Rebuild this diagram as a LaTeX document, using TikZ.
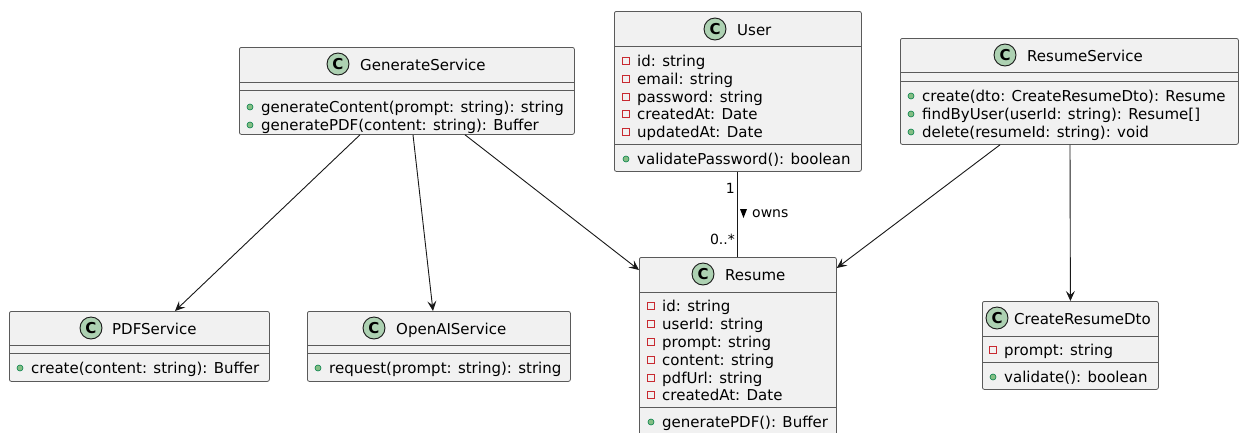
\documentclass[tikz,border=0pt]{standalone}
\usepackage{fontspec}
\setmainfont{DejaVu Sans}
\usetikzlibrary{arrows.meta}
\definecolor{boxfill}{HTML}{F1F1F1}
\definecolor{boxline}{HTML}{5A5A5A}
\definecolor{iconfill}{HTML}{ADD1B2}
\definecolor{iconline}{HTML}{181818}
\definecolor{privcol}{HTML}{C82930}
\definecolor{pubfill}{HTML}{84BE84}
\definecolor{publine}{HTML}{038048}
\definecolor{edgecol}{HTML}{181818}
\tikzset{
  cls/.style={draw=boxline, fill=boxfill, line width=0.8pt, rounded corners=2pt, inner sep=0pt, anchor=north west},
  sepline/.style={draw=boxline, line width=0.8pt},
  clsicon/.style={circle, draw=iconline, fill=iconfill, line width=0.9pt, minimum size=22pt, inner sep=0pt, font=\bfseries\fontsize{15}{15}\selectfont},
  clstitle/.style={anchor=base west, inner sep=0pt, font=\fontsize{15}{18}\selectfont},
  mem/.style={anchor=base west, inner sep=0pt, font=\fontsize{15}{18}\selectfont},
  pubdot/.style={fill=pubfill, draw=publine, line width=0.6pt},
  privsq/.style={draw=privcol, line width=0.8pt},
  assoc/.style={draw=edgecol, line width=0.9pt, -{Stealth[length=10pt,width=9pt,inset=4pt]}},
  plainedge/.style={draw=edgecol, line width=0.9pt},
  elabel/.style={inner sep=0pt, font=\fontsize{14}{16}\selectfont},
}
\newcommand\mpub[4]{%
  \draw[pubdot] (#2,{#3-5}) circle[radius=3pt];
  \node[mem] (#1) at ({#2+11},#3) {#4};}
\newcommand\mpriv[4]{%
  \draw[privsq] ({#2-3.5},{#3-8.5}) rectangle ++(7,7);
  \node[mem] (#1) at ({#2+11},#3) {#4};}
\begin{document}
\begin{tikzpicture}[x=1pt,y=-1pt]
\useasboundingbox (0,0) rectangle (1240,432);
\clip (0,0) rectangle (1240,432);
\fill[white] (0,0) rectangle (1240,432);

% GenerateService
\node[cls, minimum width=335pt, minimum height=87pt] (gen) at (239,47) {};
\draw[sepline] (gen.north west) ++(0,35) -- ++(335,0);
\draw[sepline] (gen.north west) ++(0,43) -- ++(335,0);
\node[clsicon] (genicon) at (338,64) {C};
\node[clstitle] (gentitle) at (360,70) {GenerateService};
\mpub{genm1}{250}{112}{generateContent(prompt: string): string}
\mpub{genm2}{250}{130}{generatePDF(content: string): Buffer}

% User
\node[cls, minimum width=247pt, minimum height=160pt] (user) at (614,11) {};
\draw[sepline] (user.north west) ++(0,35) -- ++(247,0);
\draw[sepline] (user.north west) ++(0,133) -- ++(247,0);
\node[clsicon] (usericon) at (715,29) {C};
\node[clstitle] (usertitle) at (737,35) {User};
\mpriv{userf1}{626}{66}{id: string}
\mpriv{userf2}{626}{84}{email: string}
\mpriv{userf3}{626}{102}{password: string}
\mpriv{userf4}{626}{119}{createdAt: Date}
\mpriv{userf5}{626}{137}{updatedAt: Date}
\mpub{userm1}{626}{164}{validatePassword(): boolean}

% ResumeService
\node[cls, minimum width=338pt, minimum height=106pt] (rsvc) at (900,38) {};
\draw[sepline] (rsvc.north west) ++(0,34) -- ++(338,0);
\draw[sepline] (rsvc.north west) ++(0,43) -- ++(338,0);
\node[clsicon] (rsvcicon) at (1005,55) {C};
\node[clstitle] (rsvctitle) at (1027,61) {ResumeService};
\mpub{rsvcm1}{911}{101}{create(dto: CreateResumeDto): Resume}
\mpub{rsvcm2}{911}{119}{findByUser(userId: string): Resume[]}
\mpub{rsvcm3}{911}{137}{delete(resumeId: string): void}

% Resume
\node[cls, minimum width=197pt, minimum height=188pt] (resume) at (639,257) {};
\draw[sepline] (resume.north west) ++(0,35) -- ++(197,0);
\draw[sepline] (resume.north west) ++(0,150) -- ++(197,0);
\node[clsicon] (resumeicon) at (703,274) {C};
\node[clstitle] (resumetitle) at (725,280) {Resume};
\mpriv{resf1}{651}{311}{id: string}
\mpriv{resf2}{651}{329}{userId: string}
\mpriv{resf3}{651}{347}{prompt: string}
\mpriv{resf4}{651}{365}{content: string}
\mpriv{resf5}{651}{383}{pdfUrl: string}
\mpriv{resf6}{651}{400}{createdAt: Date}
\mpub{resm1}{651}{427}{generatePDF(): Buffer}

% PDFService
\node[cls, minimum width=260pt, minimum height=70pt] (pdf) at (9,311) {};
\draw[sepline] (pdf.north west) ++(0,34) -- ++(260,0);
\draw[sepline] (pdf.north west) ++(0,42) -- ++(260,0);
\node[clsicon] (pdficon) at (91,328) {C};
\node[clstitle] (pdftitle) at (112,334) {PDFService};
\mpub{pdfm1}{20}{373}{create(content: string): Buffer}

% OpenAIService
\node[cls, minimum width=263pt, minimum height=70pt] (openai) at (307,311) {};
\draw[sepline] (openai.north west) ++(0,34) -- ++(263,0);
\draw[sepline] (openai.north west) ++(0,42) -- ++(263,0);
\node[clsicon] (openaiicon) at (374,328) {C};
\node[clstitle] (openaititle) at (396,334) {OpenAIService};
\mpub{openaim1}{318}{373}{request(prompt: string): string}

% CreateResumeDto
\node[cls, minimum width=176pt, minimum height=88pt] (dto) at (982,301) {};
\draw[sepline] (dto.north west) ++(0,35) -- ++(176,0);
\draw[sepline] (dto.north west) ++(0,61) -- ++(176,0);
\node[clsicon] (dtoicon) at (997,318) {C};
\node[clstitle] (dtotitle) at (1014,324) {CreateResumeDto};
\mpriv{dtof1}{993}{355}{prompt: string}
\mpub{dtom1}{993}{382}{validate(): boolean}

% connectors
\draw[assoc] ([xshift=121pt]gen.south west) -- ([xshift=166pt]pdf.north west);
\draw[assoc] ([xshift=174pt]gen.south west) -- ([xshift=126pt]openai.north west);
\draw[assoc] ([xshift=226pt]gen.south west) -- ([yshift=-13pt]resume.north west);
\draw[assoc] ([xshift=100pt]rsvc.south west) -- ([yshift=-11pt]resume.north east);
\draw[assoc] ([xshift=170pt]rsvc.south west) -- (dto.north);
\draw[plainedge] (user.south) -- (resume.north);

\node[elabel, anchor=east] (lblone) at (735,188) {1};
\node[elabel, anchor=east] (lblmany) at (735,239) {0..*};
\fill[black] (740,209) -- (747,209) -- (743.5,218) -- cycle;
\node[elabel, anchor=west] (lblowns) at (752,214) {owns};
\end{tikzpicture}
\end{document}
